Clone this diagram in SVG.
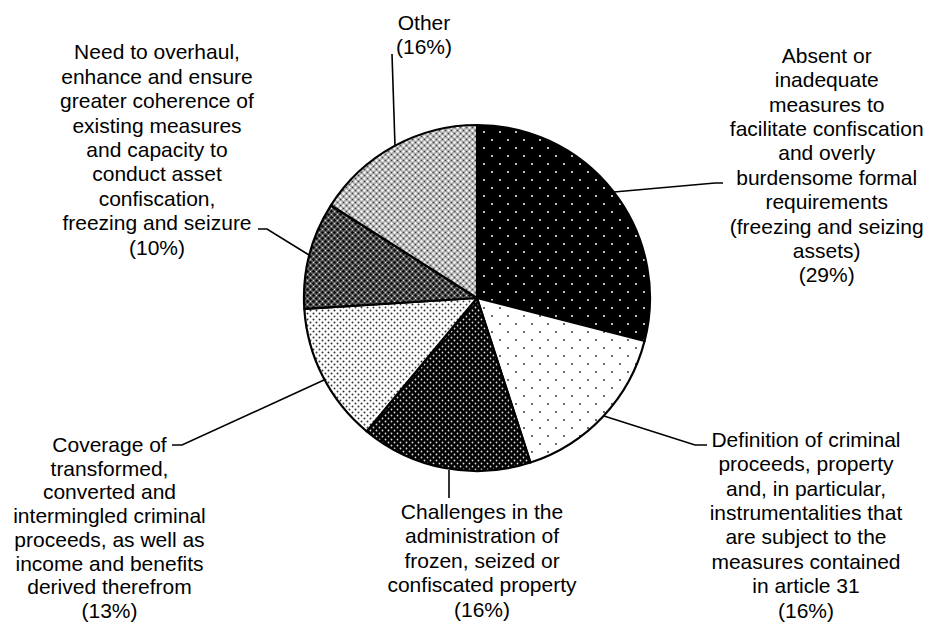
<svg xmlns="http://www.w3.org/2000/svg" width="926" height="623" viewBox="0 0 926 623">
<style>
  text { font-family: "Liberation Sans", Arial, sans-serif; font-size: 21px; fill: #000; text-anchor: middle; }
  .slice { stroke: #000; stroke-width: 2.2; stroke-linejoin: round; }
  .leader { fill: none; stroke: #000; stroke-width: 1.6; }
</style>
<defs>
  <pattern id="pBlackDots" width="16" height="16" patternUnits="userSpaceOnUse">
    <rect width="16" height="16" fill="#000"/>
    <circle cx="4" cy="4" r="1" fill="#fff"/>
    <circle cx="12" cy="12" r="1" fill="#fff"/>
  </pattern>
  <pattern id="pWhiteDots" width="16" height="16" patternUnits="userSpaceOnUse">
    <rect width="16" height="16" fill="#fff"/>
    <circle cx="4" cy="4" r="0.9" fill="#222"/>
    <circle cx="12" cy="12" r="0.9" fill="#222"/>
  </pattern>
  <pattern id="pDarkDense" width="6" height="6" patternUnits="userSpaceOnUse">
    <rect width="6" height="6" fill="#000"/>
    <circle cx="1.5" cy="1.5" r="0.9" fill="#ddd"/>
    <circle cx="4.5" cy="4.5" r="0.9" fill="#ddd"/>
  </pattern>
  <pattern id="pLightDense" width="6" height="6" patternUnits="userSpaceOnUse">
    <rect width="6" height="6" fill="#fff"/>
    <circle cx="1.5" cy="1.5" r="1" fill="#333"/>
    <circle cx="4.5" cy="4.5" r="1" fill="#333"/>
  </pattern>
  <pattern id="pDarkHatch" width="6" height="6" patternUnits="userSpaceOnUse">
    <rect width="6" height="6" fill="#666"/>
    <circle cx="1.5" cy="1.5" r="1.3" fill="#000"/>
    <circle cx="4.5" cy="4.5" r="1.3" fill="#000"/>
    <circle cx="4.5" cy="1.5" r="0.6" fill="#eee"/>
    <circle cx="1.5" cy="4.5" r="0.6" fill="#eee"/>
  </pattern>
  <pattern id="pLightHatch" width="6" height="6" patternUnits="userSpaceOnUse">
    <rect width="6" height="6" fill="#aaa"/>
    <circle cx="1.5" cy="1.5" r="1.2" fill="#fff"/>
    <circle cx="4.5" cy="4.5" r="1.2" fill="#fff"/>
    <circle cx="4.5" cy="1.5" r="0.8" fill="#444"/>
    <circle cx="1.5" cy="4.5" r="0.8" fill="#444"/>
  </pattern>
</defs>

<g id="pie">
  <path id="slice-absent" class="slice" fill="url(#pBlackDots)" d="M477,298 L477,125 A173,173 0 0 1 644.56,341.02 Z"/>
  <path id="slice-definition" class="slice" fill="url(#pWhiteDots)" d="M477,298 L644.56,341.02 A173,173 0 0 1 530.46,462.53 Z"/>
  <path id="slice-challenges" class="slice" fill="url(#pDarkDense)" d="M477,298 L530.46,462.53 A173,173 0 0 1 366.73,431.30 Z"/>
  <path id="slice-coverage" class="slice" fill="url(#pLightDense)" d="M477,298 L366.73,431.30 A173,173 0 0 1 304.34,308.86 Z"/>
  <path id="slice-overhaul" class="slice" fill="url(#pDarkHatch)" d="M477,298 L304.34,308.86 A173,173 0 0 1 330.93,205.30 Z"/>
  <path id="slice-other" class="slice" fill="url(#pLightHatch)" d="M477,298 L330.93,205.30 A173,173 0 0 1 477,125 Z"/>
</g>

<g id="connectors">
  <polyline class="leader" points="614,192 715,183 723,183"/>
  <polyline class="leader" points="604,416 695,445 707,445"/>
  <polyline class="leader" points="449,470 449,498"/>
  <polyline class="leader" points="324,380 182,445 172,445"/>
  <polyline class="leader" points="309,255 267,229 258,229"/>
  <polyline class="leader" points="395,146 392,54"/>
</g>

<g id="label-other">
  <text x="424" y="30">Other</text>
  <text x="424" y="54">(16%)</text>
</g>

<g id="label-overhaul">
  <text x="157" y="59.3">Need to overhaul,</text>
  <text x="157" y="83.7">enhance and ensure</text>
  <text x="157" y="108.1">greater coherence of</text>
  <text x="157" y="132.5">existing measures</text>
  <text x="157" y="156.9">and capacity to</text>
  <text x="157" y="181.3">conduct asset</text>
  <text x="157" y="205.7">confiscation,</text>
  <text x="157" y="230.1">freezing and seizure</text>
  <text x="157" y="254.5">(10%)</text>
</g>

<g id="label-absent">
  <text x="826.7" y="62.7">Absent or</text>
  <text x="826.7" y="87.1">inadequate</text>
  <text x="826.7" y="111.5">measures to</text>
  <text x="826.7" y="135.9">facilitate confiscation</text>
  <text x="826.7" y="160.3">and overly</text>
  <text x="826.7" y="184.7">burdensome formal</text>
  <text x="826.7" y="209.1">requirements</text>
  <text x="826.7" y="233.5">(freezing and seizing</text>
  <text x="826.7" y="257.9">assets)</text>
  <text x="826.7" y="282.3">(29%)</text>
</g>

<g id="label-coverage">
  <text x="109.5" y="452">Coverage of</text>
  <text x="109.5" y="475.7">transformed,</text>
  <text x="109.5" y="499.4">converted and</text>
  <text x="109.5" y="523.1">intermingled criminal</text>
  <text x="109.5" y="546.8">proceeds, as well as</text>
  <text x="109.5" y="570.5">income and benefits</text>
  <text x="109.5" y="594.2">derived therefrom</text>
  <text x="109.5" y="617.9">(13%)</text>
</g>

<g id="label-challenges">
  <text x="482" y="519">Challenges in the</text>
  <text x="482" y="543.4">administration of</text>
  <text x="482" y="567.8">frozen, seized or</text>
  <text x="482" y="592.2">confiscated property</text>
  <text x="482" y="616.6">(16%)</text>
</g>

<g id="label-definition">
  <text x="806" y="446.7">Definition of criminal</text>
  <text x="806" y="471.1">proceeds, property</text>
  <text x="806" y="495.5">and, in particular,</text>
  <text x="806" y="519.9">instrumentalities that</text>
  <text x="806" y="544.3">are subject to the</text>
  <text x="806" y="568.7">measures contained</text>
  <text x="806" y="593.1">in article 31</text>
  <text x="806" y="617.5">(16%)</text>
</g>
</svg>
